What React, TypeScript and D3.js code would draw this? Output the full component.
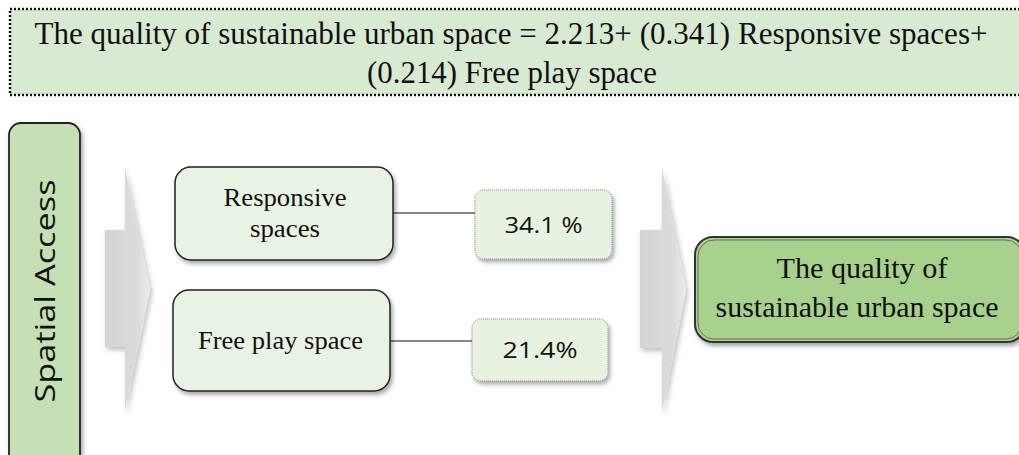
import React from "react";
import * as d3 from "d3";

const equationLines = [
  "The quality of sustainable urban space = 2.213+ (0.341) Responsive spaces+",
  "(0.214) Free play space",
];
const sourceLabel = "Spatial Access";
const factorLabels = [["Responsive", "spaces"], ["Free play space"]];
const coefficients = [0.341, 0.214];
const percentLabels = ["34.1 %", "21.4%"];
const outcomeLabel = ["The quality of", "sustainable urban space"];

const W = 1019;
const H = 455;

const serif = "'Liberation Serif', 'Times New Roman', serif";
const sans = "'Open Sans', 'Noto Sans', sans-serif";

function arrowPath(x0: number, xHead: number, xTip: number, shaftTop: number, shaftBot: number, headTop: number, headBot: number) {
  const p = d3.path();
  const mid = (headTop + headBot) / 2;
  p.moveTo(x0, shaftTop);
  p.lineTo(xHead, shaftTop);
  p.lineTo(xHead, headTop);
  p.lineTo(xTip, mid);
  p.lineTo(xHead, headBot);
  p.lineTo(xHead, shaftBot);
  p.lineTo(x0, shaftBot);
  p.closePath();
  return p.toString();
}

export default function App() {
  const rowY = d3.scalePoint<number>().domain([0, 1]).range([213, 341]);
  const factorBoxes = [
    { x: 175, y: 167, w: 218, h: 93 },
    { x: 173, y: 290, w: 217, h: 101 },
  ];
  const pctBoxes = [
    { x: 475, y: 190, w: 137, h: 69 },
    { x: 472, y: 319, w: 136, h: 62 },
  ];
  const factorTextLen = [[123, 70], [165]];
  const pctTextLen = [78, 75];

  return (
    <svg width={W} height={H} style={{ position: "absolute", left: 0, top: 0, background: "#fff" }}>
      <defs>
        <filter id="shadow" x="-20%" y="-20%" width="150%" height="160%">
          <feDropShadow dx="2" dy="3" stdDeviation="2" floodColor="#000" floodOpacity="0.35" />
        </filter>
        <filter id="shadowSoft" x="-20%" y="-20%" width="150%" height="160%">
          <feDropShadow dx="2" dy="3" stdDeviation="2.5" floodColor="#000" floodOpacity="0.25" />
        </filter>
        <linearGradient id="arrowGrad" x1="0" y1="0" x2="1" y2="0">
          <stop offset="0" stopColor="#d4d4d4" />
          <stop offset="0.75" stopColor="#dcdcdc" />
          <stop offset="1" stopColor="#ececec" />
        </linearGradient>
      </defs>

      {/* equation box */}
      <rect x={10} y={9} width={1030} height={86} fill="#d9ead3" stroke="#111" strokeWidth={2.5} strokeDasharray="2 2" />
      <text x={511} y={44} textAnchor="middle" fontFamily={serif} fontSize={32} fill="#111" textLength={953} lengthAdjust="spacingAndGlyphs">
        {equationLines[0]}
      </text>
      <text x={512} y={83} textAnchor="middle" fontFamily={serif} fontSize={32} fill="#111" textLength={290} lengthAdjust="spacingAndGlyphs">
        {equationLines[1]}
      </text>

      {/* source box */}
      <rect x={9} y={123} width={71} height={345} rx={12} fill="#c5e0b4" stroke="#222" strokeWidth={1.8} filter="url(#shadow)" />
      <text
        transform="translate(55,291) rotate(-90)"
        textAnchor="middle"
        fontFamily={sans}
        fontSize={28}
        fill="#111"
        textLength={223}
        lengthAdjust="spacingAndGlyphs"
      >
        {sourceLabel}
      </text>

      {/* arrows */}
      <path d={arrowPath(105, 125, 150, 230, 347, 167, 412)} fill="url(#arrowGrad)" filter="url(#shadowSoft)" />
      <path d={arrowPath(640, 662, 686, 230, 348, 167, 413)} fill="url(#arrowGrad)" filter="url(#shadowSoft)" />

      {/* factors */}
      {coefficients.map((c, i) => {
        const fb = factorBoxes[i];
        const pb = pctBoxes[i];
        const y = rowY(i) as number;
        const lines = factorLabels[i];
        const cy = fb.y + fb.h / 2;
        return (
          <g key={i} data-coef={c}>
            <line x1={fb.x + fb.w} x2={pb.x} y1={y} y2={y} stroke="#111" strokeWidth={1.2} />
            <rect x={fb.x} y={fb.y} width={fb.w} height={fb.h} rx={16} fill="#e9f3e3" stroke="#222" strokeWidth={1.5} filter="url(#shadow)" />
            {lines.map((t, j) => (
              <text
                key={j}
                x={fb.x + fb.w / 2 + (lines.length > 1 ? 1 : -1)}
                y={cy + 8 + (j - (lines.length - 1) / 2) * 31}
                textAnchor="middle"
                fontFamily={serif}
                fontSize={25}
                fill="#111"
                textLength={factorTextLen[i][j]}
                lengthAdjust="spacingAndGlyphs"
              >
                {t}
              </text>
            ))}
            <rect x={pb.x} y={pb.y} width={pb.w} height={pb.h} rx={9} fill="#e7f2e1" stroke="#888" strokeWidth={1} strokeDasharray="1 1" filter="url(#shadow)" />
            <text
              x={pb.x + pb.w / 2}
              y={pb.y + pb.h / 2 + 8}
              textAnchor="middle"
              fontFamily={sans}
              fontSize={22}
              fill="#111"
              textLength={pctTextLen[i]}
              lengthAdjust="spacingAndGlyphs"
            >
              {percentLabels[i]}
            </text>
          </g>
        );
      })}

      {/* outcome */}
      <rect x={695} y={237} width={330} height={105} rx={18} fill="#a9d18e" stroke="#333" strokeWidth={2} filter="url(#shadow)" />
      <rect x={698} y={240} width={324} height={99} rx={16} fill="none" stroke="#555" strokeWidth={0.8} />
      <text x={862} y={278} textAnchor="middle" fontFamily={serif} fontSize={29} fill="#111" textLength={171} lengthAdjust="spacingAndGlyphs">
        {outcomeLabel[0]}
      </text>
      <text x={857} y={317} textAnchor="middle" fontFamily={serif} fontSize={29} fill="#111" textLength={283} lengthAdjust="spacingAndGlyphs">
        {outcomeLabel[1]}
      </text>
    </svg>
  );
}
